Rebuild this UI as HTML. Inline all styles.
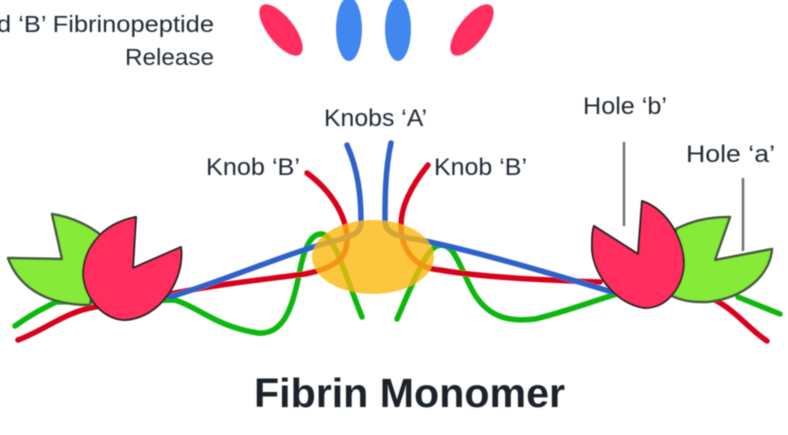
<!DOCTYPE html>
<html><head><meta charset="utf-8"><style>
html,body{margin:0;padding:0;background:#fff;width:788px;height:435px;overflow:hidden}
svg{display:block}
text{font-family:"Liberation Sans",sans-serif;fill:#232a35}
</style></head><body>
<svg width="788" height="435" viewBox="0 0 788 435" xmlns="http://www.w3.org/2000/svg">
<defs><filter id="b" x="-5%" y="-5%" width="110%" height="110%"><feGaussianBlur stdDeviation="0.6"/></filter>
<filter id="t" x="-5%" y="-20%" width="110%" height="140%"><feGaussianBlur stdDeviation="0.5"/></filter></defs>
<g filter="url(#b)">
<ellipse cx="281" cy="30" rx="31" ry="13" fill="#ff2d5e" transform="rotate(52 281 30)"/>
<ellipse cx="349" cy="29" rx="13" ry="32" fill="#4088f0"/>
<ellipse cx="398" cy="29" rx="13" ry="32" fill="#4088f0"/>
<ellipse cx="472" cy="30" rx="31" ry="13" fill="#ff2d5e" transform="rotate(-52 472 30)"/>
<g fill="none" stroke-width="5.5" stroke-linecap="round" stroke-linejoin="round">
<path d="M15 326 C30 315 42 309 56 302 L175 300 C200 308 215 326 258 333 C285 335 293 305 300 270 C305 245 312 233 322 234 C335 236 345 275 362 317" stroke="#0bb70b"/>
<path d="M397 319 C410 290 425 250 437 246 C455 240 460 270 475 295 C490 318 510 322 535 319 C565 312 590 302 620 293" stroke="#0bb70b"/>
<path d="M738 297 L780 314" stroke="#0bb70b"/>
<path d="M18 340 C45 330 65 312 95 307 L175 293 C220 284 260 280 305 274 C335 268 347 258 347 240 C347 215 330 190 307 173" stroke="#d9001c"/>
<path d="M428 165 C412 185 401 205 401 225 C401 250 415 268 440 270 C480 277 540 280 600 282" stroke="#d9001c"/>
<path d="M715 300 C735 310 750 330 767 341" stroke="#d9001c"/>
<path d="M347 145 C358 170 361 195 361 222 C361 234 352 236 330 242 C280 256 220 282 170 297" stroke="#2f62c8"/>
<path d="M391 143 C385 170 385 200 385 222 C386 234 400 237 420 240 C470 250 540 270 612 292" stroke="#2f62c8"/>
</g>
<ellipse cx="373" cy="257" rx="61" ry="37" fill="#fcb810" fill-opacity=".8"/>
<path d="M52 214 C72 217 90 226 102 236 L90 305 C50 305 20 290 8 258 L62 259 Z" fill="#86ea38" stroke="#46583f" stroke-width="2.5" stroke-linejoin="round"/>
<path d="M136 217 C100 224 83 250 83 275 C85 300 105 320 125 320 C160 318 185 280 181 247 L133 268 Z" fill="#ff2d5e" stroke="#222" stroke-width="2" stroke-linejoin="round"/>
<path d="M730 217 C705 217 690 222 676 229 L672 296 C685 302 695 302 707 302 C745 298 770 275 772 249 L715 260 Z" fill="#86ea38" stroke="#46583f" stroke-width="2.5" stroke-linejoin="round"/>
<path d="M642 201 C668 210 684 240 684 265 C682 290 665 308 645 308 C620 305 595 280 592 250 C592 238 592 232 594 226 L638 254 Z" fill="#ff2d5e" stroke="#222" stroke-width="2" stroke-linejoin="round"/>
<path d="M624 142 V226 M743 178 V251" stroke="#6d7078" stroke-width="2.5" fill="none"/>
</g>
<g filter="url(#t)">
<text x="-3" y="32" font-size="23" textLength="217" lengthAdjust="spacingAndGlyphs">d ‘B’ Fibrinopeptide</text>
<text x="125" y="65" font-size="23" textLength="89" lengthAdjust="spacingAndGlyphs">Release</text>
<text x="324" y="126" font-size="24" textLength="103" lengthAdjust="spacingAndGlyphs">Knobs ‘A’</text>
<text x="206" y="175" font-size="24" textLength="94" lengthAdjust="spacingAndGlyphs">Knob ‘B’</text>
<text x="434" y="175" font-size="24" textLength="93" lengthAdjust="spacingAndGlyphs">Knob ‘B’</text>
<text x="583" y="114" font-size="24" textLength="84" lengthAdjust="spacingAndGlyphs">Hole ‘b’</text>
<text x="686" y="162" font-size="24" textLength="89" lengthAdjust="spacingAndGlyphs">Hole ‘a’</text>
<text x="254" y="407" font-size="41" font-weight="bold" textLength="311" lengthAdjust="spacingAndGlyphs" style="fill:#1f242b">Fibrin Monomer</text>
</g>
</svg>
</body></html>
